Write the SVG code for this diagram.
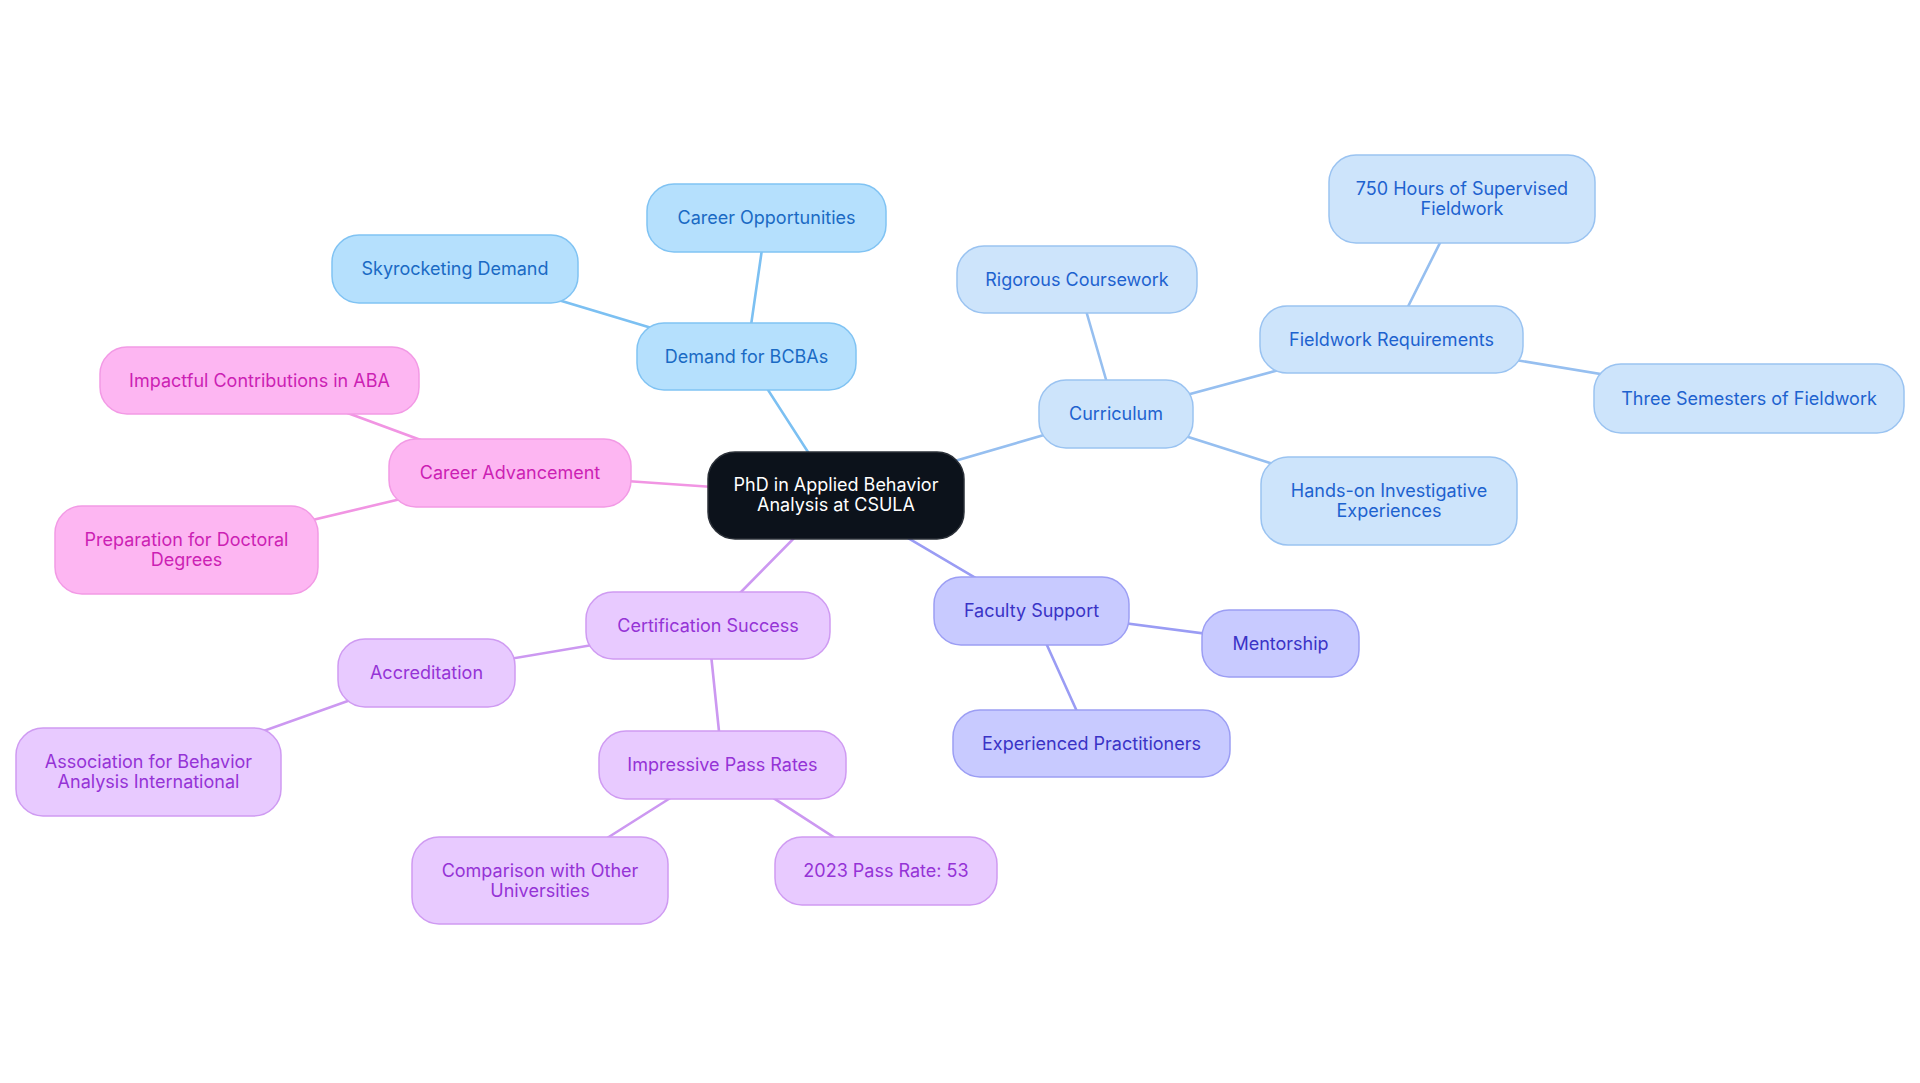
<svg xmlns="http://www.w3.org/2000/svg" width="1920" height="1083" viewBox="0 0 1920 1083">
<style>
text{font-family:Inter,"Noto Sans","Liberation Sans",sans-serif;font-size:18px;text-anchor:middle}
.e{fill:none;stroke-width:2.6;stroke-linecap:round}
.eb{stroke:#7cc0f2}.ec{stroke:#96bff0}.ef{stroke:#9a9cf4}.ep{stroke:#cc98f1}.ek{stroke:#f195e3}
.nb rect{fill:#b5e0fd;stroke:#80c3f3;stroke-width:1.5}.nb text{fill:#1a6ac4}
.nc rect{fill:#cde4fb;stroke:#9ac3f1;stroke-width:1.5}.nc text{fill:#1d62cf}
.nf rect{fill:#c8caff;stroke:#9c9ef4;stroke-width:1.5}.nf text{fill:#3a33c6}
.np rect{fill:#e8caff;stroke:#cf9bf2;stroke-width:1.5}.np text{fill:#9533d6}
.nk rect{fill:#fdb6f2;stroke:#f29ae5;stroke-width:1.5}.nk text{fill:#cc1fb4}
.root rect{fill:#0c121b;stroke:#2b3038;stroke-width:1.5}.root text{fill:#ffffff}
</style>
<rect width="1920" height="1083" fill="#ffffff"/>
<g id="connectors">
<line class="e eb" x1="836" y1="495.5" x2="746.5" y2="356.5"/>
<line class="e eb" x1="746.5" y1="356.5" x2="455" y2="269"/>
<line class="e eb" x1="746.5" y1="356.5" x2="766.5" y2="218"/>
<line class="e ec" x1="836" y1="495.5" x2="1116" y2="414"/>
<line class="e ec" x1="1116" y1="414" x2="1077" y2="279.5"/>
<line class="e ec" x1="1116" y1="414" x2="1391.5" y2="339.5"/>
<line class="e ec" x1="1116" y1="414" x2="1389" y2="501"/>
<line class="e ec" x1="1391.5" y1="339.5" x2="1462" y2="199"/>
<line class="e ec" x1="1391.5" y1="339.5" x2="1749" y2="398.5"/>
<line class="e ef" x1="836" y1="495.5" x2="1031.5" y2="611"/>
<line class="e ef" x1="1031.5" y1="611" x2="1280.5" y2="643.5"/>
<line class="e ef" x1="1031.5" y1="611" x2="1091.5" y2="743.5"/>
<line class="e ep" x1="836" y1="495.5" x2="708" y2="625.5"/>
<line class="e ep" x1="708" y1="625.5" x2="426.5" y2="673"/>
<line class="e ep" x1="708" y1="625.5" x2="722.5" y2="765"/>
<line class="e ep" x1="426.5" y1="673" x2="148.5" y2="772"/>
<line class="e ep" x1="722.5" y1="765" x2="540" y2="880.5"/>
<line class="e ep" x1="722.5" y1="765" x2="886" y2="871"/>
<line class="e ek" x1="836" y1="495.5" x2="510" y2="473"/>
<line class="e ek" x1="510" y1="473" x2="259.5" y2="380.5"/>
<line class="e ek" x1="510" y1="473" x2="186.5" y2="550"/>
</g>
<g id="root" class="root"><rect x="708" y="452" width="256" height="87" rx="27"/><text x="836" y="491">PhD in Applied Behavior</text><text x="836" y="511">Analysis at CSULA</text></g>
<g id="demand" class="nb"><rect x="637" y="323" width="219" height="67" rx="27"/><text x="746.5" y="362.5">Demand for BCBAs</text></g>
<g id="career-opportunities" class="nb"><rect x="647" y="184" width="239" height="68" rx="27"/><text x="766.5" y="224">Career Opportunities</text></g>
<g id="skyrocketing" class="nb"><rect x="332" y="235" width="246" height="68" rx="27"/><text x="455" y="275">Skyrocketing Demand</text></g>
<g id="curriculum" class="nc"><rect x="1039" y="380" width="154" height="68" rx="27"/><text x="1116" y="420">Curriculum</text></g>
<g id="rigorous" class="nc"><rect x="957" y="246" width="240" height="67" rx="27"/><text x="1077" y="285.5">Rigorous Coursework</text></g>
<g id="fieldwork" class="nc"><rect x="1260" y="306" width="263" height="67" rx="27"/><text x="1391.5" y="345.5">Fieldwork Requirements</text></g>
<g id="hours750" class="nc"><rect x="1329" y="155" width="266" height="88" rx="27"/><text x="1462" y="195">750 Hours of Supervised</text><text x="1462" y="215">Fieldwork</text></g>
<g id="three-semesters" class="nc"><rect x="1594" y="364" width="310" height="69" rx="27"/><text x="1749" y="404.5">Three Semesters of Fieldwork</text></g>
<g id="hands-on" class="nc"><rect x="1261" y="457" width="256" height="88" rx="27"/><text x="1389" y="497">Hands-on Investigative</text><text x="1389" y="517">Experiences</text></g>
<g id="faculty" class="nf"><rect x="934" y="577" width="195" height="68" rx="27"/><text x="1031.5" y="617">Faculty Support</text></g>
<g id="mentorship" class="nf"><rect x="1202" y="610" width="157" height="67" rx="27"/><text x="1280.5" y="649.5">Mentorship</text></g>
<g id="experienced" class="nf"><rect x="953" y="710" width="277" height="67" rx="27"/><text x="1091.5" y="749.5">Experienced Practitioners</text></g>
<g id="certification" class="np"><rect x="586" y="592" width="244" height="67" rx="27"/><text x="708" y="631.5">Certification Success</text></g>
<g id="accreditation" class="np"><rect x="338" y="639" width="177" height="68" rx="27"/><text x="426.5" y="679">Accreditation</text></g>
<g id="association" class="np"><rect x="16" y="728" width="265" height="88" rx="27"/><text x="148.5" y="768">Association for Behavior</text><text x="148.5" y="788">Analysis International</text></g>
<g id="impressive" class="np"><rect x="599" y="731" width="247" height="68" rx="27"/><text x="722.5" y="771">Impressive Pass Rates</text></g>
<g id="comparison" class="np"><rect x="412" y="837" width="256" height="87" rx="27"/><text x="540" y="876.5">Comparison with Other</text><text x="540" y="896.5">Universities</text></g>
<g id="pass2023" class="np"><rect x="775" y="837" width="222" height="68" rx="27"/><text x="886" y="877">2023 Pass Rate: 53</text></g>
<g id="career-advancement" class="nk"><rect x="389" y="439" width="242" height="68" rx="27"/><text x="510" y="479">Career Advancement</text></g>
<g id="impactful" class="nk"><rect x="100" y="347" width="319" height="67" rx="27"/><text x="259.5" y="386.5">Impactful Contributions in ABA</text></g>
<g id="preparation" class="nk"><rect x="55" y="506" width="263" height="88" rx="27"/><text x="186.5" y="546">Preparation for Doctoral</text><text x="186.5" y="566">Degrees</text></g>
</svg>
